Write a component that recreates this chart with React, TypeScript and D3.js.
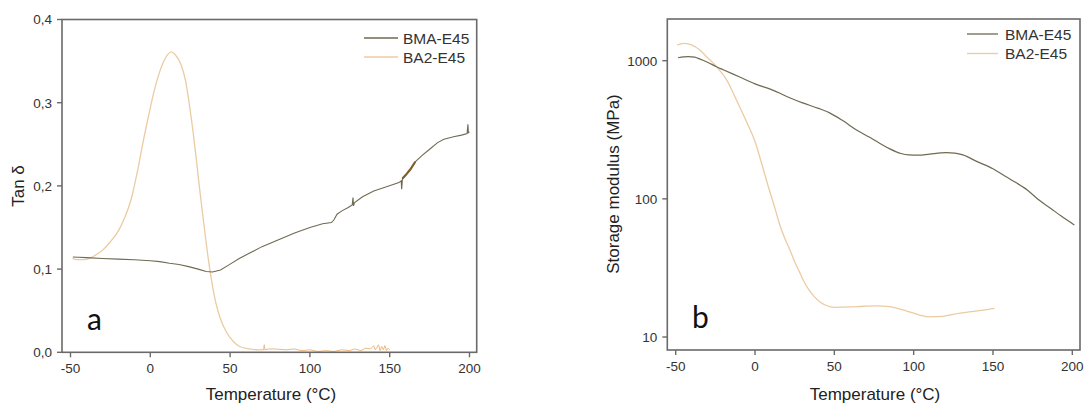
import React from "react";
import * as d3 from "d3";

// ---------- Data ----------
const seriesNames = ["BMA-E45", "BA2-E45"];

// Panel a: Tan δ vs temperature (°C)
const tanBMA: [number, number][] = [
  [-48.5, 0.1145], [-45, 0.1143], [-40, 0.1138], [-30, 0.1128], [-20, 0.112], [-10, 0.1112],
  [0, 0.110], [6, 0.109], [12, 0.107], [18, 0.1055], [24, 0.103], [30, 0.100], [35, 0.0972],
  [39, 0.0965], [44, 0.099], [50, 0.106], [56, 0.113], [62, 0.119], [70, 0.127], [80, 0.135],
  [90, 0.143], [100, 0.150], [108, 0.1545], [113.5, 0.156], [115, 0.159], [117, 0.166],
  [120, 0.170], [124, 0.174], [126.5, 0.177], [127, 0.186], [127.3, 0.176], [128, 0.180],
  [133, 0.187], [140, 0.194], [148, 0.199], [155.8, 0.204], [157.2, 0.206], [157.5, 0.196],
  [158, 0.209], [160, 0.213], [163, 0.220], [166, 0.229], [170, 0.236], [175, 0.244],
  [180, 0.252], [184, 0.256], [190, 0.259], [195, 0.261], [198.5, 0.263], [199, 0.274],
  [199.3, 0.264], [200, 0.265],
];
const tanBA2: [number, number][] = [
  [-48.8, 0.113], [-46, 0.1115], [-42, 0.1115], [-38, 0.113], [-35, 0.116], [-30, 0.1225],
  [-25.4, 0.132], [-20, 0.146], [-16, 0.162], [-12, 0.184], [-8, 0.218], [-4.6, 0.252],
  [-1, 0.285], [2, 0.311], [5, 0.332], [8, 0.348], [11, 0.358], [13.1, 0.361], [15.5, 0.358],
  [19.4, 0.345], [22, 0.327], [24.6, 0.296], [27, 0.262], [29, 0.229], [31, 0.195],
  [33.5, 0.155], [36, 0.117], [38.5, 0.085], [41, 0.060], [44, 0.040], [47.5, 0.025],
  [52, 0.013], [56, 0.007], [62, 0.004], [68, 0.003], [71, 0.003], [71.4, 0.009], [71.8, 0.003],
  [74, 0.004], [78, 0.004], [85, 0.003], [90, 0.004], [95, 0.002], [100, 0.003], [105, 0.001],
  [110, 0.002], [115, 0.001], [120, 0.003], [125, 0.002], [128, 0.004], [132, 0.002],
  [135, 0.005], [138, 0.004], [140, 0.008], [141, 0.003], [143, 0.009], [144, 0.002],
  [145, 0.007], [146, 0.003], [147, 0.008], [148, 0.002], [149, 0.005], [150, 0.003],
];

// Panel b: Storage modulus (MPa) vs temperature (°C)
const modBMA: [number, number][] = [
  [-48.5, 1050], [-45, 1065], [-42, 1069], [-38, 1060], [-35, 1030], [-30, 975], [-24.3, 905],
  [-20, 860], [-10, 765], [0, 680], [10, 620], [15.4, 583], [20, 550], [30, 495], [40, 452],
  [47, 419], [55, 370], [64, 315], [72, 280], [78.5, 253], [85, 230], [92, 213], [97, 208],
  [103, 207], [110, 211], [120.5, 216], [126, 214], [131, 208], [140, 186], [150, 165],
  [158, 145], [165, 130], [172, 115], [179, 98], [186, 86], [193, 75], [201.3, 64.7],
];
const modBA2: [number, number][] = [
  [-49, 1300], [-46, 1330], [-44, 1336], [-40, 1300], [-35, 1200], [-30.6, 1069], [-24.3, 905],
  [-18, 730], [-11.7, 520], [-6, 375], [0, 260], [4.5, 175], [9, 116], [12.5, 86], [15.6, 65],
  [19, 51], [22, 42.7], [25, 35], [28, 29.6], [31, 25], [34, 21.9], [37.5, 19.5], [41, 17.9],
  [45, 16.9], [50, 16.4], [60, 16.5], [68, 16.7], [76, 16.8], [84.8, 16.6], [90, 16.1],
  [93.2, 15.7], [100, 14.9], [105, 14.3], [110, 14.0], [118.4, 14.1], [125, 14.6], [135, 15.2],
  [143, 15.6], [151, 16.1],
];

const xTicks = [-50, 0, 50, 100, 150, 200];
const tanTicks = [0, 0.1, 0.2, 0.3, 0.4];
const modTicks = [10, 100, 1000];

// ---------- Style ----------
const C_BMA = "#6f6a52";
const C_BMA_DARK = "#80602a";
const C_BA2 = "#ebcba2";
const C_NOISE = "#f0b87e";
const FONT = "'Liberation Sans', Arial, sans-serif";
const FRAME = "#6a6a6a";
const TICK_TXT = "#333";

export default function App() {
  // Panel a geometry
  const a = { left: 62, right: 476.7, top: 19.5, bottom: 352.3 };
  const xa = d3.scaleLinear().domain([-50, 200]).range([70.5, 469.5]);
  const ya = d3.scaleLinear().domain([0, 0.4]).range([352.3, 19.5]);

  // Panel b geometry
  const b = { left: 667.3, right: 1080, top: 19, bottom: 350 };
  const xb = d3.scaleLinear().domain([-50, 200]).range([675.7, 1072.3]);
  const yb = d3.scaleLog().domain([10, 1000]).range([337, 60.7]);

  const lineA = d3.line<[number, number]>().x((d) => xa(d[0])).y((d) => ya(d[1])).curve(d3.curveMonotoneX);
  const lineAlin = d3.line<[number, number]>().x((d) => xa(d[0])).y((d) => ya(d[1]));
  const lineB = d3.line<[number, number]>().x((d) => xb(d[0])).y((d) => yb(d[1])).curve(d3.curveMonotoneX);

  const fmtComma = (v: number) => d3.format(".1f")(v).replace(".", ",");

  const ba2Smooth = tanBA2.filter((d) => d[0] <= 68);
  const ba2Noise = tanBA2.filter((d) => d[0] >= 68);
  const bmaThick = tanBMA.filter((d) => d[0] >= 158 && d[0] <= 166);

  return (
    <svg
      width={1084}
      height={403}
      style={{ position: "absolute", left: 0, top: 0, background: "#fff" }}
      fontFamily={FONT}
    >
      {/* ---------------- Panel a ---------------- */}
      <g>
        <path d={lineA(ba2Smooth) || ""} fill="none" stroke={C_BA2} strokeWidth={1.3} />
        <path d={lineAlin(ba2Noise) || ""} fill="none" stroke={C_NOISE} strokeWidth={1} />
        <path d={lineAlin(tanBMA) || ""} fill="none" stroke={C_BMA} strokeWidth={1.1} />
        <path d={lineAlin(bmaThick) || ""} fill="none" stroke={C_BMA_DARK} strokeWidth={2.2} />

        <rect x={a.left} y={a.top} width={a.right - a.left} height={a.bottom - a.top} fill="none" stroke={FRAME} strokeWidth={1.6} />

        {xTicks.map((t) => (
          <g key={"xa" + t}>
            <line x1={xa(t)} x2={xa(t)} y1={a.bottom} y2={a.bottom + 5} stroke={FRAME} strokeWidth={1.4} />
            <text x={xa(t)} y={a.bottom + 21} textAnchor="middle" fontSize={13.5} fill={TICK_TXT}>{t}</text>
          </g>
        ))}
        {tanTicks.map((t) => (
          <g key={"ya" + t}>
            <line x1={a.left - 5} x2={a.left} y1={ya(t)} y2={ya(t)} stroke={FRAME} strokeWidth={1.4} />
            <text x={a.left - 10} y={ya(t) + 4.8} textAnchor="end" fontSize={13.5} fill={TICK_TXT}>{fmtComma(t)}</text>
          </g>
        ))}
        <text x={271} y={400} textAnchor="middle" fontSize={17} fill="#222">Temperature (°C)</text>
        <text transform="translate(24,186) rotate(-90)" textAnchor="middle" fontSize={17} fill="#222">Tan δ</text>
        <text x={87} y={330} fontSize={30} fontFamily="Lato, 'Open Sans', sans-serif" fill="#111">a</text>
        {seriesNames.map((n, i) => (
          <g key={"la" + n}>
            <line x1={364} x2={398} y1={38 + i * 19} y2={38 + i * 19} stroke={i === 0 ? C_BMA : C_BA2} strokeWidth={1.3} />
            <text x={403} y={38 + i * 19 + 5.5} fontSize={15.5} fill="#333">{n}</text>
          </g>
        ))}
      </g>

      {/* ---------------- Panel b ---------------- */}
      <g>
        <path d={lineB(modBA2) || ""} fill="none" stroke={C_BA2} strokeWidth={1.3} />
        <path d={lineB(modBMA) || ""} fill="none" stroke={C_BMA} strokeWidth={1.2} />

        <rect x={b.left} y={b.top} width={b.right - b.left} height={b.bottom - b.top} fill="none" stroke={FRAME} strokeWidth={1.6} />

        {xTicks.map((t) => (
          <g key={"xb" + t}>
            <line x1={xb(t)} x2={xb(t)} y1={b.bottom} y2={b.bottom + 5} stroke={FRAME} strokeWidth={1.4} />
            <text x={xb(t)} y={b.bottom + 21} textAnchor="middle" fontSize={13.5} fill={TICK_TXT}>{t}</text>
          </g>
        ))}
        {modTicks.map((t) => (
          <g key={"yb" + t}>
            <line x1={b.left - 5} x2={b.left} y1={yb(t)} y2={yb(t)} stroke={FRAME} strokeWidth={1.4} />
            <text x={b.left - 10} y={yb(t) + 4.8} textAnchor="end" fontSize={13.5} fill={TICK_TXT}>{t}</text>
          </g>
        ))}
        <text x={875} y={400} textAnchor="middle" fontSize={17} fill="#222">Temperature (°C)</text>
        <text transform="translate(619,184) rotate(-90)" textAnchor="middle" fontSize={17} fill="#222">Storage modulus (MPa)</text>
        <text x={692} y={328} fontSize={30} fontFamily="Lato, 'Open Sans', sans-serif" fill="#111">b</text>
        {seriesNames.map((n, i) => (
          <g key={"lb" + n}>
            <line x1={967} x2={998} y1={34 + i * 19.5} y2={34 + i * 19.5} stroke={i === 0 ? C_BMA : C_BA2} strokeWidth={1.3} />
            <text x={1005} y={34 + i * 19.5 + 5.5} fontSize={15.5} fill="#333">{n}</text>
          </g>
        ))}
      </g>
    </svg>
  );
}
